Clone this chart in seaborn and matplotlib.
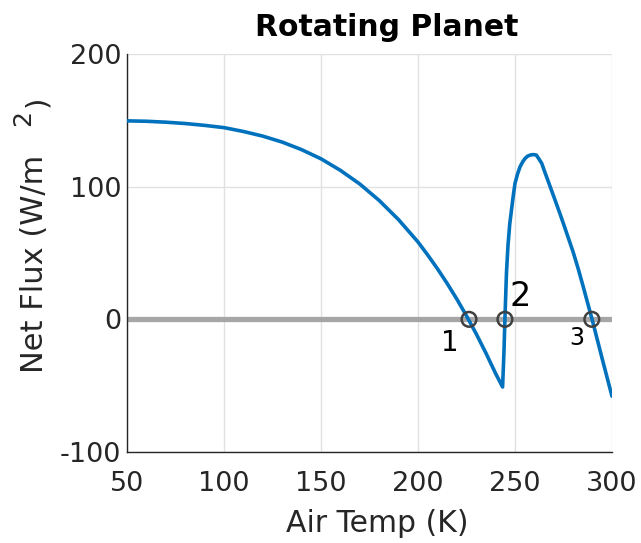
import matplotlib
matplotlib.use("Agg")
import matplotlib.pyplot as plt
import seaborn as sns
import pandas as pd

# ---- data ----
temp_k = [50, 60, 70, 80, 90, 100, 110, 120, 130, 140, 150, 160, 170, 180, 190,
          200, 205, 210, 215, 220, 225, 230, 235, 240, 243.6, 244.3, 244.8, 245.6,
          246.4, 247.3, 249, 250, 251.3, 252.6, 254, 255.2, 256.5, 258, 259.5, 261,
          262.3, 263.8, 265, 268, 270, 273.2, 275, 280, 282.6, 285, 290, 295, 300]
net_flux = [149.6, 149.3, 148.6, 147.6, 146.2, 144.5, 141.6, 138.1, 133.6, 127.9,
            121.0, 112.3, 102.0, 89.6, 75.1, 58.3, 48.5, 38.2, 27.1, 15.3, 2.6,
            -10.9, -25.4, -40.8, -51.0, -25.0, 0.0, 35.0, 56.0, 72.0, 92.0, 102.5,
            109.5, 115.0, 118.8, 121.3, 123.0, 123.9, 124.2, 123.8, 121.0, 117.5,
            112.5, 100.5, 92.5, 79.5, 72.0, 50.6, 38.0, 25.5, -1.5, -30.0, -58.0]
eq_temps = [226.3, 244.8, 289.6]
eq_flux = [0, 0, 0]
eq_labels = ["1", "2", "3"]
eq_label_x = [216.5, 252.6, 282.0]
eq_label_y = [-23.9, 10.0, -19.7]
eq_label_size = [20, 24, 17]
x_ticks = [50, 100, 150, 200, 250, 300]
y_ticks = [-100, 0, 100, 200]

sns.set_theme(style="white")
plt.rcParams['font.family'] = ['DejaVu Sans']
plt.rcParams['axes.unicode_minus'] = False

W, H = 641, 543
fig = plt.figure(figsize=(W / 100, H / 100), dpi=100)
ax = fig.add_axes([127 / W, 1 - 452 / H, 485 / W, 398 / H])

ax.set_xlim(x_ticks[0], x_ticks[-1])
ax.set_ylim(y_ticks[0], y_ticks[-1])
ax.set_xticks(x_ticks)
ax.set_yticks(y_ticks)
ax.grid(True, color='#e1e1e1', lw=1.0)
ax.set_axisbelow(True)

ax.axhline(0, color='#a6a6a6', lw=3.8, zorder=2)

df = pd.DataFrame({"T": temp_k, "F": net_flux})
sns.lineplot(data=df, x="T", y="F", color='#0072BD', lw=2.6, sort=False,
             ax=ax, zorder=3)
sns.scatterplot(x=eq_temps, y=eq_flux, marker='o', s=112, facecolor='none',
                edgecolor='#404040', linewidth=1.8, ax=ax, zorder=4)

for lx, ly, lt, ls in zip(eq_label_x, eq_label_y, eq_labels, eq_label_size):
    ax.text(lx, ly, lt, fontsize=ls, ha='center', va='baseline', color='black')

for s in ['top', 'right']:
    ax.spines[s].set_visible(False)
for s in ['left', 'bottom']:
    ax.spines[s].set_color('#262626')
    ax.spines[s].set_linewidth(1.0)

ax.tick_params(axis='both', direction='in', length=4, width=1, color='#262626',
               labelsize=19.5, labelcolor='#262626')
ax.tick_params(axis='x', pad=14)
ax.tick_params(axis='y', pad=4)

ax.set_xlabel("Air Temp (K)", fontsize=21.5, color='#262626')
ax.xaxis.label.set_va('baseline')
ax.xaxis.set_label_coords((377.5 - 127) / 485, (452 - 531.7) / 398)
ax.set_ylabel("")

# y label pieces (superscript rendered offset as in the reference)
fig.text(43 / W, 1 - 373 / H, "Net Flux (W/m", rotation=90, rotation_mode='anchor',
         ha='left', va='baseline', fontsize=22, color='#262626')
fig.text(30 / W, 1 - 126 / H, "2", rotation=90, rotation_mode='anchor',
         ha='left', va='baseline', fontsize=18, color='#262626')
fig.text(45 / W, 1 - 107 / H, ")", rotation=90, rotation_mode='anchor',
         ha='left', va='baseline', fontsize=21, color='#262626')

fig.text(386.7 / W, 1 - 36 / H, "Rotating Planet", ha='center', va='baseline',
         fontsize=21.5, fontweight='bold', color='black')

fig.savefig("out.png", dpi=100)
